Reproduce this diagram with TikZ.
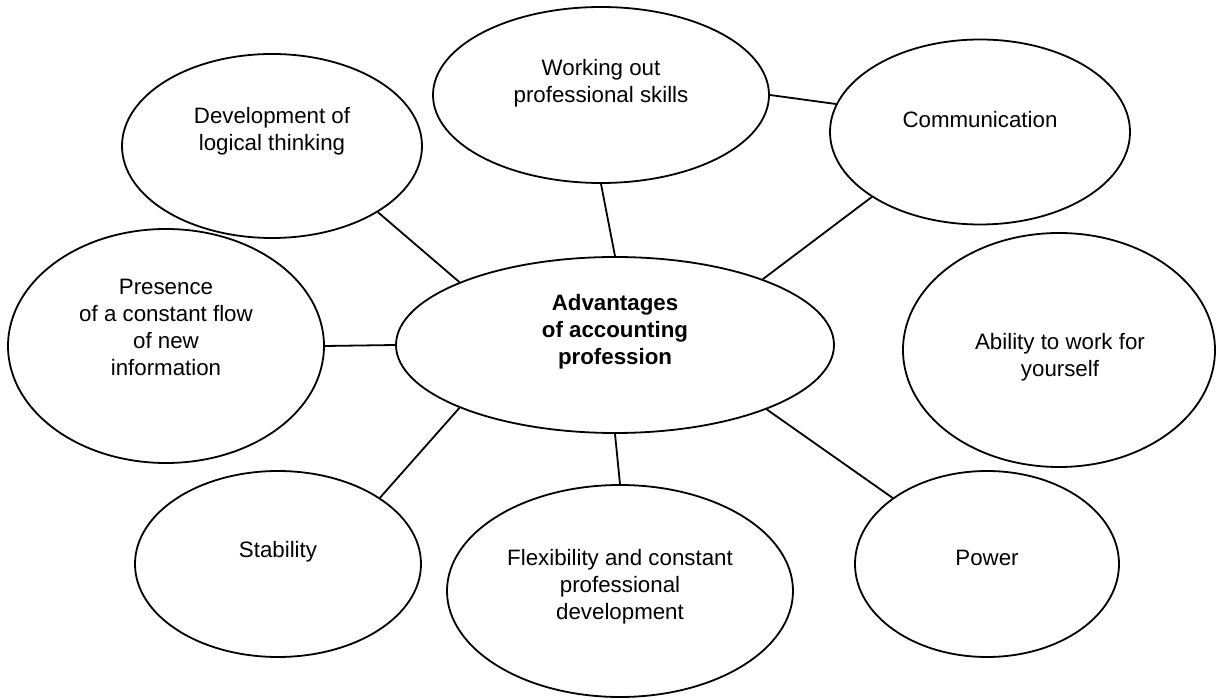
\documentclass[tikz,border=0pt]{standalone}
\usepackage{fontspec}
\setmainfont{Liberation Sans}
\usetikzlibrary{positioning, shapes.geometric, calc}

\begin{document}
\begin{tikzpicture}[x=0.5pt, y=-0.5pt,
	bubble/.style={ellipse, draw=black, line width=0.9pt, inner sep=0pt},
	bubble txt/.style={align=center, inner sep=0pt, font=\fontsize{11.15}{13.5}\selectfont},
	link/.style={draw=black, line width=0.9pt}]
					\def\px{0.5pt}
					\useasboundingbox (0,0) rectangle (1217,700);

					\node[bubble, minimum width=438*\px, minimum height=176*\px] (adv) at (615,345) {};
					\node[bubble, minimum width=300*\px, minimum height=184*\px] (dev) at (272,146) {};
					\node[bubble, minimum width=336*\px, minimum height=176*\px] (work) at (601,95) {};
					\node[bubble, minimum width=300*\px, minimum height=185*\px] (comm) at (980,132) {};
					\node[bubble, minimum width=316*\px, minimum height=234*\px] (pres) at (166,346) {};
					\node[bubble, minimum width=312*\px, minimum height=234*\px] (abil) at (1059,350) {};
					\node[bubble, minimum width=286*\px, minimum height=186*\px] (stab) at (278,564) {};
					\node[bubble, minimum width=346*\px, minimum height=212*\px] (flex) at (620,591) {};
					\node[bubble, minimum width=264*\px, minimum height=186*\px] (pow) at (987,564) {};

					\node[bubble txt, font=\fontsize{11.15}{13.5}\selectfont\bfseries] (adv txt) at (615,332) {Advantages\\of accounting\\profession};
					\node[bubble txt] (dev txt) at (272,131) {Development of\\logical thinking};
					\node[bubble txt] (work txt) at (601,83) {Working out\\professional skills};
					\node[bubble txt] (comm txt) at (980,120) {Communication};
					\node[bubble txt] (pres txt) at (166,327) {Presence\\of a constant flow\\of new\\information};
					\node[bubble txt] (abil txt) at (1060,357) {Ability to work for\\yourself};
					\node[bubble txt] (stab txt) at (278,552) {Stability};
					\node[bubble txt] (flex txt) at (620,587) {Flexibility and constant\\professional\\development};
					\node[bubble txt] (pow txt) at (987,558) {Power};

					% links
					\draw[link] (work.east) -- (comm.169);
					\draw[link] (work.south) -- (adv.north);
					\draw[link] (comm.211) -- (adv.24);
					\draw[link] (dev.328) -- (adv.158);
					\draw[link] (pres.east) -- (adv.west);
					\draw[link] (stab.33) -- (adv.202);
					\draw[link] (adv.south) -- (flex.north);
					\draw[link] (adv.337) -- (pow.145);
				\end{tikzpicture}
\end{document}
